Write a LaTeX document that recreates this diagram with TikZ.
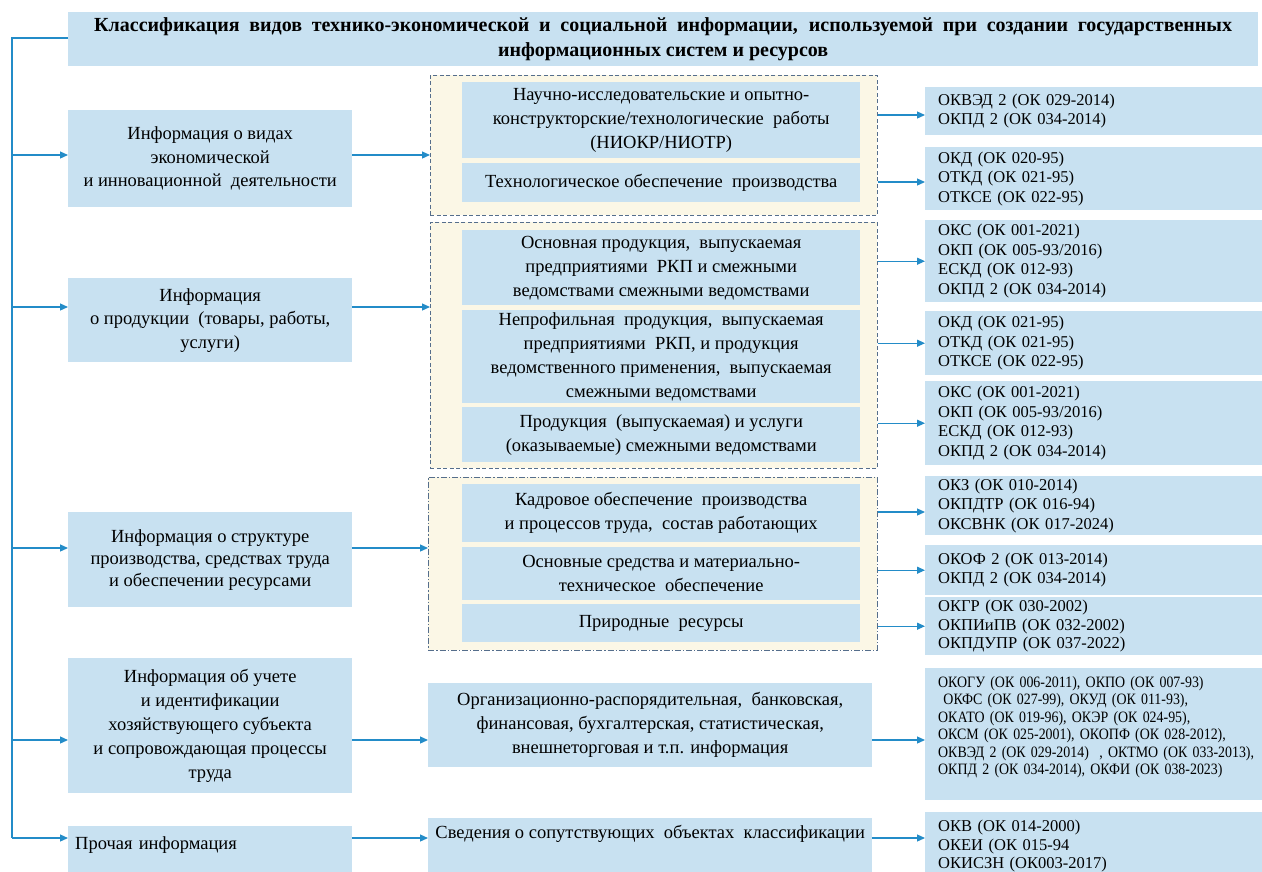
\documentclass[tikz,border=0pt]{standalone}
\usepackage{fontspec}
\setmainfont{Liberation Serif}
\newfontfamily\condfont{Liberation Serif}[FakeStretch=0.88]
\usetikzlibrary{arrows.meta,calc}
\definecolor{boxblue}{RGB}{200,225,241}
\definecolor{lineblue}{RGB}{35,140,200}
\definecolor{dashc}{RGB}{85,110,140}
\definecolor{cream}{RGB}{251,247,230}
\tikzset{
 box/.style={fill=boxblue, draw=none, inner sep=0pt, align=center, anchor=north west, font=\fontsize{18.5}{24}\selectfont},
 lbox/.style={box, font=\fontsize{18.5}{23.5}\selectfont},
 rbox/.style={fill=boxblue, draw=none, inner ysep=0pt, inner xsep=13pt, align=left, anchor=north west, text width=330pt, font=\fontsize{16.5}{19.5}\selectfont},
 grp/.style={fill=cream, draw=dashc, dash pattern=on 4pt off 2.5pt, line width=0.8pt, inner sep=0pt, anchor=north west},
 grpdd/.style={grp, dash pattern=on 6pt off 2pt on 1.2pt off 2pt},
 conn/.style={draw=lineblue, line width=1.2pt},
 arr/.style={conn, -{Triangle[length=8pt,width=7pt]}},
}
\begin{document}
\begin{tikzpicture}[x=1pt,y=-1pt]
\useasboundingbox[fill=white] (0,0) rectangle (1262,871);
% title
\node[box, minimum width=1190pt, minimum height=54pt, font=\fontsize{20}{25}\selectfont\bfseries] (title) at (68,12)
 {\makebox[1138pt][s]{Классификация видов технико-экономической и социальной информации, используемой при создании государственных}\\информационных систем и ресурсов};
% left column
\node[lbox, minimum width=284pt, minimum height=97pt] (L1) at (68,110) {Информация о видах\\экономической\\и инновационной\ \ деятельности};
\node[lbox, minimum width=284pt, minimum height=84pt] (L2) at (68,278) {Информация\\о продукции\ \ (товары, работы,\\услуги)};
\node[lbox, minimum width=284pt, minimum height=95pt, font=\fontsize{18.5}{22}\selectfont] (L3) at (68,512) {Информация о структуре\\производства, средствах труда\\и обеспечении ресурсами};
\node[lbox, minimum width=284pt, minimum height=135pt, font=\fontsize{18.5}{24}\selectfont] (L4) at (68,658) {Информация об учете\\и идентификации\\хозяйствующего субъекта\\и сопровождающая процессы\\труда};
\node[lbox, minimum width=284pt, minimum height=60pt, align=left, text width=270pt, inner xsep=7pt, text height=23pt, text depth=37pt] (L5) at (68,826) {Прочая информация};
% groups
\node[grp, minimum width=447pt, minimum height=140pt] (GA) at (430,75) {};
\node[grp, minimum width=447pt, minimum height=246pt] (GB) at (430,222) {};
\node[grpdd, minimum width=449pt, minimum height=173pt] (GC) at (428,477) {};
% inner boxes
\node[box, minimum width=398pt, minimum height=76pt] (A1) at (462,82) {Научно-исследовательские и опытно-\\конструкторские/технологические\ \ работы\\(НИОКР/НИОТР)};
\node[box, minimum width=398pt, minimum height=39pt] (A2) at (462,163) {Технологическое обеспечение\ \ производства};
\node[box, minimum width=398pt, minimum height=75pt] (B1) at (462,230) {Основная продукция,\ \ выпускаемая\\предприятиями\ \ РКП и смежными\\ведомствами смежными ведомствами};
\node[box, minimum width=398pt, minimum height=93pt] (B2) at (462,310) {Непрофильная\ \ продукция,\ \ выпускаемая\\предприятиями\ \ РКП, и продукция\\ведомственного применения,\ \ выпускаемая\\смежными ведомствами};
\node[box, minimum width=398pt, minimum height=55pt] (B3) at (462,407) {Продукция\ \ (выпускаемая) и услуги\\(оказываемые) смежными ведомствами};
\node[box, minimum width=398pt, minimum height=58pt] (C1) at (462,484) {Кадровое обеспечение\ \ производства\\и процессов труда,\ \ состав работающих};
\node[box, minimum width=398pt, minimum height=53pt] (C2) at (462,547) {Основные средства и материально-\\техническое\ \ обеспечение};
\node[box, minimum width=398pt, minimum height=38pt] (C3) at (462,604) {Природные\ \ ресурсы};
\node[box, minimum width=444pt, minimum height=84pt] (M4) at (428,683) {Организационно-распорядительная,\ \ банковская,\\финансовая, бухгалтерская, статистическая,\\внешнеторговая и т.п. информация};
\node[box, minimum width=444pt, minimum height=60pt, text height=20pt, text depth=40pt] (M5) at (428,818) {Сведения о сопутствующих\ \ объектах\ \ классификации};
% right column
\node[rbox, minimum height=48pt] (R1) at (925,87) {ОКВЭД 2 (ОК 029-2014)\\ОКПД 2 (ОК 034-2014)};
\node[rbox, minimum height=63pt] (R2) at (925,147) {ОКД (ОК 020-95)\\ОТКД (ОК 021-95)\\ОТКСЕ (ОК 022-95)};
\node[rbox, minimum height=82pt] (R3) at (925,220) {ОКС (ОК 001-2021)\\ОКП (ОК 005-93/2016)\\ЕСКД (ОК 012-93)\\ОКПД 2 (ОК 034-2014)};
\node[rbox, minimum height=64pt] (R4) at (925,311) {ОКД (ОК 021-95)\\ОТКД (ОК 021-95)\\ОТКСЕ (ОК 022-95)};
\node[rbox, minimum height=84pt] (R5) at (925,381) {ОКС (ОК 001-2021)\\ОКП (ОК 005-93/2016)\\ЕСКД (ОК 012-93)\\ОКПД 2 (ОК 034-2014)};
\node[rbox, minimum height=59pt] (R6) at (925,476) {ОКЗ (ОК 010-2014)\\ОКПДТР (ОК 016-94)\\ОКСВНК (ОК 017-2024)};
\node[rbox, minimum height=50pt] (R7) at (925,545) {ОКОФ 2 (ОК 013-2014)\\ОКПД 2 (ОК 034-2014)};
\node[rbox, minimum height=58pt, font=\fontsize{16.5}{18.5}\selectfont] (R8) at (925,597) {ОКГР (ОК 030-2002)\\ОКПИиПВ (ОК 032-2002)\\ОКПДУПР (ОК 037-2022)};
\node[rbox, minimum height=132pt, text width=370pt, font=\condfont\fontsize{15.8}{17.5}\selectfont] (R9) at (925,668) {ОКОГУ (ОК 006-2011), ОКПО (ОК 007-93)\\\ ОКФС (ОК 027-99), ОКУД (ОК 011-93),\\ОКАТО (ОК 019-96), ОКЭР (ОК 024-95),\\ОКСМ (ОК 025-2001), ОКОПФ (ОК 028-2012),\\ОКВЭД 2 (ОК 029-2014)\ \ , ОКТМО (ОК 033-2013),\\ОКПД 2 (ОК 034-2014), ОКФИ (ОК 038-2023)\\\rule{0pt}{14pt}};
\node[rbox, minimum height=68pt, font=\fontsize{16.5}{18.5}\selectfont] (R10) at (925,812) {ОКВ (ОК 014-2000)\\ОКЕИ (ОК 015-94\\ОКИСЗН (ОК003-2017)};
% trunk
\coordinate (t0) at (12,38);
\coordinate (y1) at (0,155);
\coordinate (y2) at (0,307);
\coordinate (y3) at (0,548);
\coordinate (y4) at (0,740);
\coordinate (y5) at (0,838);
\draw[conn] (title.west |- t0) -- (t0) -- (t0 |- y5);
\draw[arr] (t0 |- y1) -- (L1.west |- y1);
\draw[arr] (t0 |- y2) -- (L2.west |- y2);
\draw[arr] (t0 |- y3) -- (L3.west |- y3);
\draw[arr] (t0 |- y4) -- (L4.west |- y4);
\draw[arr] (t0 |- y5) -- (L5.west |- y5);
% left to middle
\draw[arr] (L1.east |- y1) -- (GA.west |- y1);
\draw[arr] (L2.east |- y2) -- (GB.west |- y2);
\draw[arr] (L3.east |- y3) -- (GC.west |- y3);
\draw[arr] (L4.east |- y4) -- (M4.west |- y4);
\draw[arr] (L5.east |- y5) -- (M5.west |- y5);
% middle to right
\coordinate (r1) at (0,115);
\coordinate (r2) at (0,182);
\coordinate (r6) at (0,512);
\draw[arr] (GA.east |- r1) -- (R1.west |- r1);
\draw[arr] (GA.east |- r2) -- (R2.west |- r2);
\draw[arr] (GB.east |- R3.west) -- (R3.west);
\draw[arr] (GB.east |- R4.west) -- (R4.west);
\draw[arr] (GB.east |- R5.west) -- (R5.west);
\draw[arr] (GC.east |- r6) -- (R6.west |- r6);
\draw[arr] (GC.east |- R7.west) -- (R7.west);
\draw[arr] (GC.east |- R8.west) -- (R8.west);
\draw[arr] (M4.east |- y4) -- (R9.west |- y4);
\draw[arr] (M5.east |- y5) -- (R10.west |- y5);
\end{tikzpicture}
\end{document}
